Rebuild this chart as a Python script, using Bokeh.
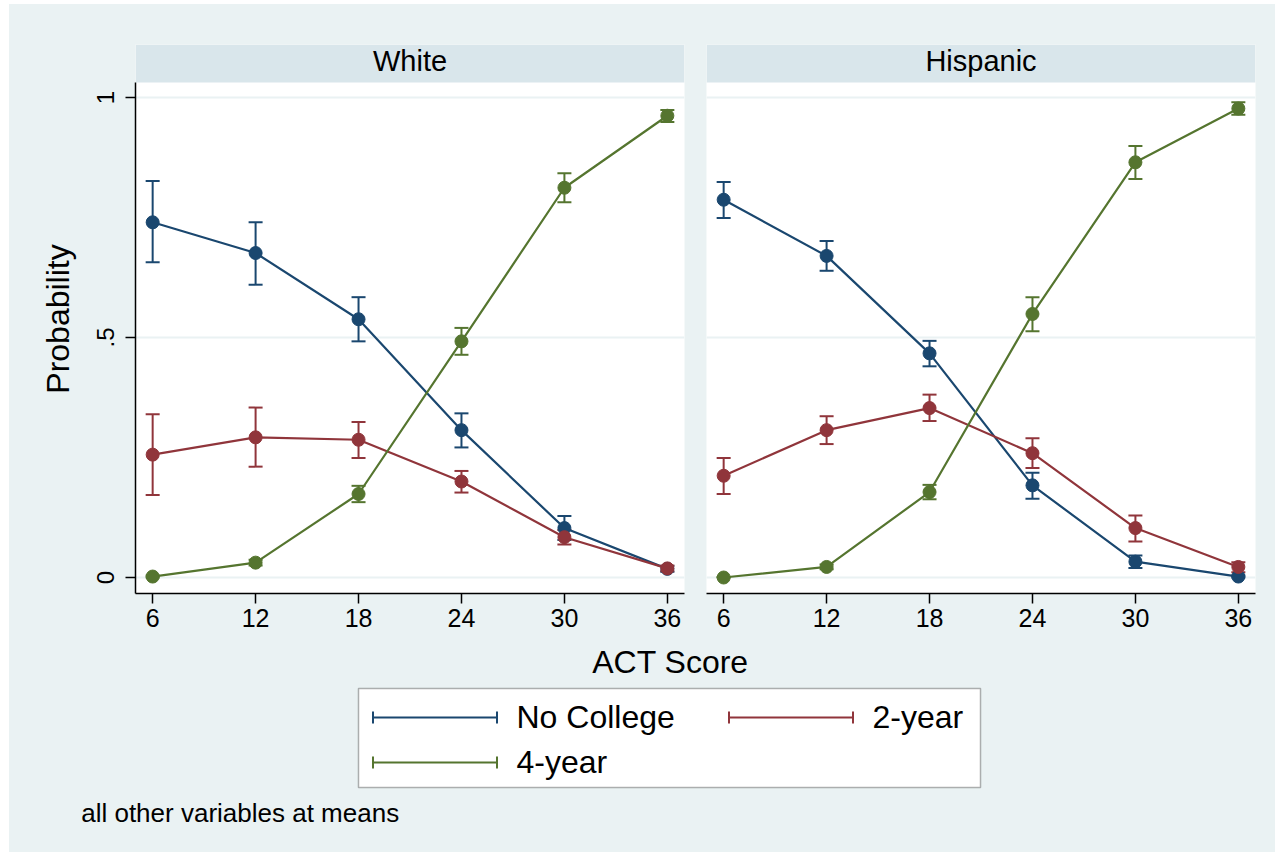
from bokeh.plotting import figure
from bokeh.models import (Range1d, FixedTicker, ColumnDataSource, Whisker, TeeHead,
                          BoxAnnotation, Label, Legend, LegendItem, Grid)
from bokeh.layouts import row, column
from bokeh.embed import file_html
from bokeh.resources import INLINE

# ---------------- data ----------------
act = [6, 12, 18, 24, 30, 36]
x_ticks = [6, 12, 18, 24, 30, 36]
y_ticks = [0, 0.5, 1]
y_tick_labels = ["0", ".5", "1"]
panel_titles = ["White", "Hispanic"]
outcomes = ["No College", "2-year", "4-year"]
colors = ["#1a476f", "#90353b", "#55752f"]

white_nocol = [0.740, 0.676, 0.538, 0.307, 0.103, 0.018]
white_nocol_lo = [0.657, 0.610, 0.492, 0.271, 0.078, 0.012]
white_nocol_hi = [0.826, 0.740, 0.584, 0.342, 0.128, 0.024]
white_2yr = [0.256, 0.292, 0.287, 0.200, 0.084, 0.019]
white_2yr_lo = [0.172, 0.231, 0.249, 0.177, 0.069, 0.013]
white_2yr_hi = [0.340, 0.354, 0.324, 0.222, 0.099, 0.025]
white_4yr = [0.002, 0.031, 0.174, 0.492, 0.812, 0.962]
white_4yr_lo = [0.000, 0.025, 0.157, 0.464, 0.782, 0.949]
white_4yr_hi = [0.004, 0.037, 0.191, 0.520, 0.842, 0.974]

hisp_nocol = [0.787, 0.670, 0.467, 0.192, 0.033, 0.002]
hisp_nocol_lo = [0.749, 0.639, 0.440, 0.164, 0.020, 0.000]
hisp_nocol_hi = [0.824, 0.701, 0.493, 0.218, 0.046, 0.004]
hisp_2yr = [0.212, 0.307, 0.353, 0.259, 0.103, 0.022]
hisp_2yr_lo = [0.174, 0.278, 0.326, 0.228, 0.075, 0.011]
hisp_2yr_hi = [0.249, 0.336, 0.381, 0.290, 0.129, 0.032]
hisp_4yr = [0.000, 0.022, 0.178, 0.549, 0.865, 0.977]
hisp_4yr_lo = [0.000, 0.017, 0.163, 0.513, 0.830, 0.964]
hisp_4yr_hi = [0.001, 0.027, 0.193, 0.584, 0.899, 0.990]

footnote = "all other variables at means"
x_title = "ACT Score"
y_title = "Probability"

# ---------------- style ----------------
BG = "#eaf2f3"
STRIP = "#d9e6eb"
FONT = "Liberation Sans"
Y0, Y1 = -0.0333, 1.1104       # frame range incl. strip
STRIP_BOTTOM = 1.0312
STRIP_TEXT_Y = 1.0767
NAN = float("nan")


def make_panel(title, series, left):
    p = figure(width=686 if left else 580, height=636,
               x_range=Range1d(5, 37), y_range=Range1d(Y0, Y1),
               output_backend="svg", toolbar_location=None,
               y_axis_location="left" if left else None,
               min_border_left=126 if left else 11,
               min_border_right=11 if left else 20,
               min_border_top=40, min_border_bottom=47,
               background_fill_color="white", border_fill_color=BG,
               outline_line_color=None)
    p.grid.visible = False
    p.add_layout(Grid(dimension=1, ticker=FixedTicker(ticks=y_ticks),
                      grid_line_color=BG, grid_line_width=2))

    ax = p.xaxis[0]
    ax.ticker = FixedTicker(ticks=x_ticks)
    ax.major_label_text_font = FONT
    ax.major_label_text_font_size = "25px"
    ax.major_label_text_color = "black"
    ax.major_label_standoff = 5
    ax.major_tick_out = 10
    ax.major_tick_in = 0
    ax.minor_tick_line_color = None
    ax.axis_line_width = 1.5
    ax.axis_line_color = "black"
    ax.major_tick_line_width = 1.5
    ax.major_tick_line_color = "black"

    if left:
        ay = p.yaxis[0]
        ay.ticker = FixedTicker(ticks=y_ticks)
        ay.major_label_overrides = dict(zip(y_ticks, y_tick_labels))
        ay.major_label_orientation = "vertical"
        ay.major_label_text_font = FONT
        ay.major_label_text_font_size = "24px"
        ay.major_label_text_color = "black"
        ay.major_label_standoff = 11
        ay.major_tick_out = 10
        ay.major_tick_in = 0
        ay.minor_tick_line_color = None
        ay.axis_line_width = 1.5
        ay.axis_line_color = "black"
        ay.major_tick_line_width = 1.5
        ay.major_tick_line_color = "black"
        ay.bounds = (Y0, STRIP_BOTTOM)
        ay.axis_label = y_title
        ay.axis_label_text_font = FONT
        ay.axis_label_text_font_size = "32px"
        ay.axis_label_text_font_style = "normal"
        ay.axis_label_text_color = "black"
        ay.axis_label_standoff = 19

    # strip
    p.add_layout(BoxAnnotation(bottom=STRIP_BOTTOM, fill_color=STRIP, fill_alpha=1,
                               line_alpha=0, level="underlay"))
    p.add_layout(Label(x=21, y=STRIP_TEXT_Y, text=title, text_align="center",
                       text_baseline="middle", text_font=FONT,
                       text_font_size="29px", text_color="black"))

    sources = []
    for (vals, lo, hi), c in zip(series, colors):
        src = ColumnDataSource(dict(x=act, y=vals, lo=lo, hi=hi))
        sources.append(src)
        p.add_layout(Whisker(source=src, base="x", lower="lo", upper="hi",
                             line_color=c, line_width=2,
                             lower_head=TeeHead(size=14, line_color=c, line_width=2),
                             upper_head=TeeHead(size=14, line_color=c, line_width=2)))
    for src, c in zip(sources, colors):
        p.line("x", "y", source=src, line_color=c, line_width=2.2)
        p.scatter("x", "y", source=src, size=13, fill_color=c, line_color=c)
    return p


white_series = [(white_nocol, white_nocol_lo, white_nocol_hi),
                (white_2yr, white_2yr_lo, white_2yr_hi),
                (white_4yr, white_4yr_lo, white_4yr_hi)]
hisp_series = [(hisp_nocol, hisp_nocol_lo, hisp_nocol_hi),
               (hisp_2yr, hisp_2yr_lo, hisp_2yr_hi),
               (hisp_4yr, hisp_4yr_lo, hisp_4yr_hi)]

fl = make_panel(panel_titles[0], white_series, True)
fr = make_panel(panel_titles[1], hisp_series, False)

# ---------------- bottom: x title, legend, note ----------------
fb = figure(width=1266, height=212, x_range=Range1d(0, 1266), y_range=Range1d(212, 0),
            x_axis_location=None, y_axis_location=None,
            output_backend="svg", toolbar_location=None,
            min_border_left=0, min_border_right=0, min_border_top=0, min_border_bottom=0,
            outline_line_color=None, background_fill_color=BG, border_fill_color=BG)
fb.grid.visible = False

fb.add_layout(Label(x=661, y=21.5, text=x_title, text_align="center",
                    text_baseline="middle", text_font=FONT,
                    text_font_size="32px", text_color="black"))
fb.add_layout(Label(x=71.7, y=172.5, text=footnote, text_align="left",
                    text_baseline="middle", text_font=FONT,
                    text_font_size="26px", text_color="black"))

fb.add_layout(BoxAnnotation(left=349, right=971, top=48, bottom=147,
                            fill_color="white", fill_alpha=1,
                            line_color="black", line_width=1.5))

# legend key proxies (one undrawn NaN row each, styled like the series)
items = []
for name, c in zip(outcomes, colors):
    ln = fb.line(x=[NAN], y=[NAN], line_color=c, line_width=2, line_dash="0 15 125 15")
    qd = fb.quad(left=[NAN], right=[NAN], top=[NAN], bottom=[NAN], fill_alpha=0,
                 line_color=c, line_width=2, line_dash="0 134 12 144 12 10")
    items.append(LegendItem(label=name, renderers=[ln, qd]))

legend = Legend(items=items, location=(347.5, 70), orientation="horizontal", ncols=2,
                glyph_width=155, glyph_height=40, label_height=40, label_width=191,
                label_standoff=5, spacing=5, padding=0, margin=0,
                background_fill_alpha=0, border_line_alpha=0,
                label_text_font=FONT, label_text_font_size="32px",
                label_text_color="black")
fb.add_layout(legend)

layout = column(row(fl, fr, styles={"background-color": BG}), fb,
                styles={"background-color": BG}, margin=(4, 0, 0, 9))
open("out.html", "w").write(file_html(layout, INLINE))
